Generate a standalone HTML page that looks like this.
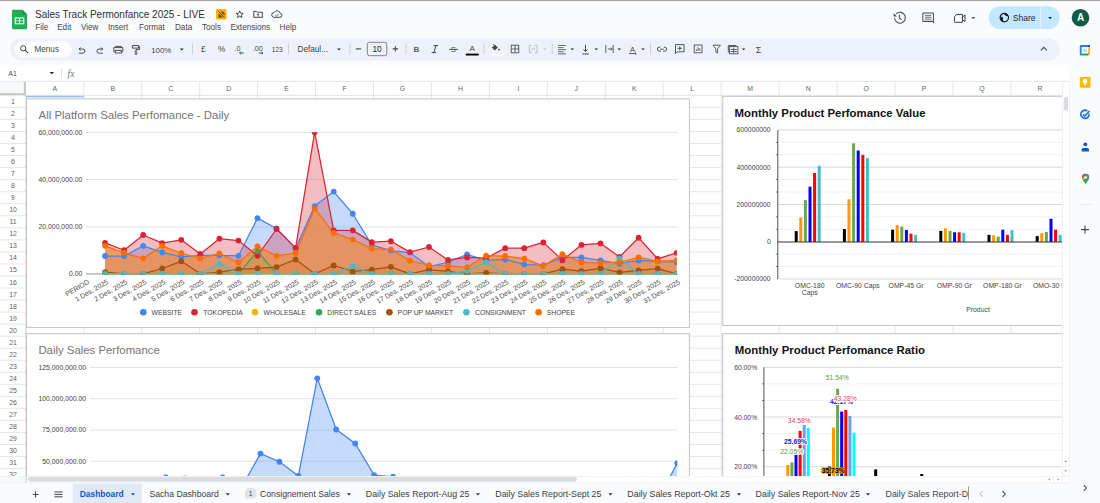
<!DOCTYPE html><html><head><meta charset="utf-8"><style>html,body{margin:0;padding:0;width:1100px;height:503px;overflow:hidden;background:#f9fbfd}svg{display:block;font-family:"Liberation Sans",sans-serif}</style></head><body>
<svg width="1100" height="503" viewBox="0 0 1100 503">
<defs><clipPath id="gridclip"><rect x="26" y="95.4" width="1036.3" height="380.6"/></clipPath><clipPath id="c1"><rect x="26" y="132.2" width="650.8" height="142.4"/></clipPath><clipPath id="c3"><rect x="26" y="340" width="651.3" height="140"/></clipPath></defs>
<rect x="0" y="0" width="1100" height="503" fill="#f9fbfd"/>
<rect x="0" y="0" width="1100" height="1.1" fill="#a6a6a6"/>
<path d="M13.2,9.8 h9.3 l4.6,4.6 v13.6 a1.2,1.2 0 0 1 -1.2,1.2 h-12.7 a1.2,1.2 0 0 1 -1.2,-1.2 v-17 a1.2,1.2 0 0 1 1.2,-1.2z" fill="#23ad52"/>
<path d="M22.5,9.8 l4.6,4.6 h-3.4 a1.2,1.2 0 0 1 -1.2,-1.2z" fill="#1b8f44"/>
<rect x="14.7" y="17.4" width="9.6" height="6.9" fill="#fff"/>
<rect x="15.8" y="18.5" width="3.2" height="2.0" fill="#23ad52"/><rect x="20.0" y="18.5" width="3.2" height="2.0" fill="#23ad52"/>
<rect x="15.8" y="21.2" width="3.2" height="2.0" fill="#23ad52"/><rect x="20.0" y="21.2" width="3.2" height="2.0" fill="#23ad52"/>
<text x="35.00" y="17.60" font-size="9.99" fill="#2f3134" font-weight="normal" text-anchor="start" >Sales Track Permonfance 2025 - LIVE</text>
<rect x="216" y="9" width="10.5" height="10.5" rx="1.5" fill="#f5b400"/>
<path d="M218.6,11.3 l6.0,6.2" stroke="#3d3000" stroke-width="0.9"/><path d="M218.6,13.2 v4.4 h4.4z M220.6,11.4 h2.2 l1.8,1.8 v2.2z" fill="#3d3000" opacity="0.85"/>
<path d="M239.7,10.9 l1.0,2.3 2.5,0.25 -1.9,1.65 0.57,2.45 -2.17,-1.3 -2.17,1.3 0.57,-2.45 -1.9,-1.65 2.5,-0.25z" fill="none" stroke="#3c4043" stroke-width="0.95" stroke-linejoin="round"/>
<path d="M253.8,11.4 h2.8 l0.9,0.9 h4.9 v5.0 h-8.6z" fill="none" stroke="#3c4043" stroke-width="0.95"/>
<path d="M258.1,13.9 v2.6 M256.9,15.0 l1.2,-1.2 1.2,1.2" fill="none" stroke="#3c4043" stroke-width="0.8"/>
<path d="M273.5,17.3 h6.3 a2.0,2.0 0 0 0 0.3,-4.0 a3.1,3.1 0 0 0 -5.8,-0.9 a2.5,2.5 0 0 0 -0.8,4.9z" fill="none" stroke="#3c4043" stroke-width="0.95"/>
<path d="M275.3,15.1 l1.2,1.1 2.2,-2.2" fill="none" stroke="#3c4043" stroke-width="0.8"/>
<text x="35.20" y="30.20" font-size="8.15" fill="#45484c" font-weight="normal" text-anchor="start" >File</text>
<text x="57.20" y="30.20" font-size="8.15" fill="#45484c" font-weight="normal" text-anchor="start" >Edit</text>
<text x="81.00" y="30.20" font-size="8.15" fill="#45484c" font-weight="normal" text-anchor="start" >View</text>
<text x="108.00" y="30.20" font-size="8.15" fill="#45484c" font-weight="normal" text-anchor="start" >Insert</text>
<text x="139.00" y="30.20" font-size="8.15" fill="#45484c" font-weight="normal" text-anchor="start" >Format</text>
<text x="175.00" y="30.20" font-size="8.15" fill="#45484c" font-weight="normal" text-anchor="start" >Data</text>
<text x="202.00" y="30.20" font-size="8.15" fill="#45484c" font-weight="normal" text-anchor="start" >Tools</text>
<text x="230.40" y="30.20" font-size="8.15" fill="#45484c" font-weight="normal" text-anchor="start" >Extensions</text>
<text x="279.60" y="30.20" font-size="8.15" fill="#45484c" font-weight="normal" text-anchor="start" >Help</text>
<g fill="none" stroke="#444746" stroke-width="1.05"><path d="M894.6,17.8 a5.4,5.4 0 1 0 1.6,-3.9"/><path d="M899.4,14.8 v3.4 l2.3,1.4"/></g>
<path d="M893.7,13.2 v3.3 h3.3z" fill="#444746"/>
<path d="M922.8,13.0 h10.6 v8.4 h-9.0 M922.8,13.0 v8.4 h9.6 l1.4,1.6 v-1.6" fill="none" stroke="#444746" stroke-width="1.0"/>
<path d="M924.9,15.3 h6.4 M924.9,17.2 h6.4 M924.9,19.1 h6.4" stroke="#444746" stroke-width="0.8"/>
<path d="M956.8,14.4 h5.6 v7.9 h-7.3 a0.6,0.6 0 0 1 -0.6,-0.6 v-5.2z" fill="none" stroke="#3c4043" stroke-width="1.0" stroke-linejoin="round"/>
<path d="M962.4,17.0 l2.6,-2.0 v6.6 l-2.6,-2.0z" fill="none" stroke="#3c4043" stroke-width="1.0" stroke-linejoin="round"/>
<path d="M971.5,17.0 h3.6 l-1.8,1.9z" fill="#444746"/>
<rect x="988.7" y="6.2" width="71" height="22.8" rx="11.4" fill="#c2e7ff"/>
<rect x="1040.2" y="6.2" width="0.9" height="22.8" fill="#f9fbfd" opacity="0.7"/>
<circle cx="1004.3" cy="17.6" r="4.2" fill="none" stroke="#0a1a2a" stroke-width="1.2"/>
<path d="M1000.6,16.6 l1.6,0.3 1.0,1.2 -0.4,1.2 0.6,1.2 -0.3,1.1 a4.2,4.2 0 0 1 -2.5,-5.0z M1003.6,13.6 l0.4,1.0 1.4,0.4 0.3,1.0 1.5,0.2 1.0,-0.4 a4.2,4.2 0 0 0 -4.6,-2.2z" fill="#0a1a2a"/>
<text x="1012.70" y="20.60" font-size="8.58" fill="#1b2b3b" font-weight="normal" text-anchor="start" >Share</text>
<path d="M1048.2,17.0 h3.8 l-1.9,2.0z" fill="#001d35"/>
<circle cx="1080.5" cy="17.7" r="8.8" fill="#0d5c47"/>
<text x="1080.50" y="21.30" font-size="10.00" fill="#ffffff" font-weight="bold" text-anchor="middle" >A</text>
<rect x="10" y="38.2" width="1050" height="22.4" rx="11.2" fill="#edf2fa"/>
<rect x="14.5" y="41.3" width="57.3" height="16" rx="8" fill="#ffffff"/>
<circle cx="23.2" cy="48.3" r="2.6" fill="none" stroke="#444746" stroke-width="1.0"/><path d="M25.1,50.2 l3.0,3.0" stroke="#444746" stroke-width="1.1"/>
<text x="34.50" y="52.00" font-size="8.16" fill="#444746" font-weight="normal" text-anchor="start" >Menus</text>
<path d="M79.2,49.0 h3.6 a2.1,2.1 0 0 1 0,4.2 h-3.8 M80.6,47.5 l-1.5,1.5 1.5,1.5" fill="none" stroke="#444746" stroke-width="0.95"/>
<path d="M102.6,49.0 h-3.6 a2.1,2.1 0 0 0 0,4.2 h3.8 M101.2,47.5 l1.5,1.5 -1.5,1.5" fill="none" stroke="#444746" stroke-width="0.95"/>
<path d="M115.3,47.6 v-1.2 h6.0 v1.2 M114.6,51.8 h-0.8 v-4.2 h9.0 v4.2 h-0.8" fill="none" stroke="#444746" stroke-width="0.95"/><rect x="115.3" y="50.4" width="6.0" height="2.6" fill="none" stroke="#444746" stroke-width="0.95"/>
<path d="M132.4,45.5 h6.2 v2.6 h-6.2z M138.6,46.8 h1.0 v2.6 h-3.6 v1.6" fill="none" stroke="#444746" stroke-width="0.95"/><rect x="135.2" y="51.0" width="1.6" height="3.5" rx="0.5" fill="none" stroke="#444746" stroke-width="0.85"/>
<text x="151.20" y="52.70" font-size="7.90" fill="#444746" font-weight="normal" text-anchor="start" >100%</text>
<path d="M180.0,48.6 h3.6 l-1.8,1.8z" fill="#1f1f1f"/>
<rect x="192.0" y="43.5" width="0.8" height="11" fill="#c7c7c7"/>
<rect x="288.0" y="43.5" width="0.8" height="11" fill="#c7c7c7"/>
<rect x="349.5" y="43.5" width="0.8" height="11" fill="#c7c7c7"/>
<rect x="405.5" y="43.5" width="0.8" height="11" fill="#c7c7c7"/>
<rect x="483.5" y="43.5" width="0.8" height="11" fill="#c7c7c7"/>
<rect x="551.8" y="43.5" width="0.8" height="11" fill="#c7c7c7"/>
<rect x="650.0" y="43.5" width="0.8" height="11" fill="#c7c7c7"/>
<text x="201.00" y="52.20" font-size="8.40" fill="#444746" font-weight="normal" text-anchor="start" >£</text>
<text x="218.00" y="52.20" font-size="8.20" fill="#444746" font-weight="normal" text-anchor="start" >%</text>
<text x="234.50" y="50.60" font-size="7.20" fill="#444746" font-weight="normal" text-anchor="start" >.0</text>
<path d="M243.8,53.0 h-4.2 M241.0,51.6 l-1.4,1.4 1.4,1.4" fill="none" stroke="#444746" stroke-width="0.9"/>
<text x="252.70" y="50.60" font-size="7.20" fill="#444746" font-weight="normal" text-anchor="start" >.00</text>
<path d="M258.5,53.0 h4.4 M261.5,51.6 l1.4,1.4 -1.4,1.4" fill="none" stroke="#444746" stroke-width="0.9"/>
<text x="271.80" y="51.90" font-size="6.53" fill="#444746" font-weight="normal" text-anchor="start" >123</text>
<text x="297.60" y="52.20" font-size="8.16" fill="#444746" font-weight="normal" text-anchor="start" >Defaul...</text>
<path d="M337.0,48.5 h3.8 l-1.9,1.9z" fill="#2d2f31"/>
<path d="M355.8,48.9 h5.4" stroke="#444746" stroke-width="1.1"/>
<rect x="367.3" y="42.3" width="19.5" height="13.4" rx="2.2" fill="none" stroke="#747775" stroke-width="0.9"/>
<text x="377.00" y="52.00" font-size="8.20" fill="#1f1f1f" font-weight="normal" text-anchor="middle" >10</text>
<path d="M392.7,48.9 h5.4 M395.4,46.2 v5.4" stroke="#444746" stroke-width="1.1"/>
<text x="413.60" y="52.00" font-size="8.00" fill="#5a5d60" font-weight="bold" text-anchor="start" >B</text>
<path d="M433.6,45.6 h4.4 M431.6,52.6 h4.4 M436.0,45.6 l-2.2,7.0" fill="none" stroke="#444746" stroke-width="1.0"/>
<path d="M449.0,49.4 h9.0" stroke="#444746" stroke-width="0.9"/>
<text x="453.40" y="52.40" font-size="7.80" fill="#444746" font-weight="normal" text-anchor="middle" >S</text>
<text x="472.20" y="51.40" font-size="8.00" fill="#444746" font-weight="normal" text-anchor="middle" >A</text>
<rect x="465.8" y="53.6" width="12.9" height="1.9" fill="#000"/>
<path d="M491.8,47.6 l3.0,-3.0 3.0,3.0 -3.0,3.0z" fill="#444746"/><path d="M492.6,46.8 l2.2,-2.2" stroke="#edf2fa" stroke-width="0.6"/><path d="M493.0,44.0 l1.8,1.8" stroke="#444746" stroke-width="0.8"/><circle cx="499.0" cy="49.6" r="0.95" fill="#444746"/>
<rect x="490.8" y="53.6" width="12.9" height="1.9" fill="#ffffff"/>
<rect x="511.2" y="45.2" width="7.6" height="7.6" fill="none" stroke="#444746" stroke-width="0.85"/><path d="M515,45.2 v7.6 M511.2,49 h7.6" stroke="#444746" stroke-width="0.8"/>
<path d="M529.3,45.3 h2.3 M534.7,45.3 h2.3 M529.3,52.7 h2.3 M534.7,52.7 h2.3 M529.3,45.3 v7.4 M537,45.3 v7.4 M531.3,49 h4" fill="none" stroke="#b9bcbf" stroke-width="1.0"/>
<path d="M543.2,48.6 h3.2 l-1.6,1.6z" fill="#b9bcbf"/>
<path d="M558,45.5 h8 M558,47.6 h5.5 M558,49.7 h8 M558,51.8 h5.5 M558,53.9 h8" stroke="#444746" stroke-width="0.8"/>
<path d="M570.5,48.5 h3.6 l-1.8,1.8z" fill="#2d2f31"/>
<path d="M582.3,54 h6.5 M585.5,44.8 v6.6 M583.5,49.5 l2,2 2,-2" fill="none" stroke="#444746" stroke-width="1.0"/>
<path d="M594.5,48.5 h3.6 l-1.8,1.8z" fill="#2d2f31"/>
<path d="M605.8,45 v8 M607.8,49 h4.5 M610.8,47.5 l1.5,1.5 -1.5,1.5 M613.2,45 v8" fill="none" stroke="#444746" stroke-width="0.85"/>
<path d="M617.5,48.5 h3.6 l-1.8,1.8z" fill="#2d2f31"/>
<text x="632.50" y="51.80" font-size="7.50" fill="#444746" font-weight="normal" text-anchor="middle" >A</text>
<path d="M629,53.6 h7 M635,52.6 l1.2,1 -1.2,1" fill="none" stroke="#444746" stroke-width="0.9"/>
<path d="M641.2,48.5 h3.6 l-1.8,1.8z" fill="#2d2f31"/>
<path d="M660.2,47.2 h-0.8 a2.0,2.0 0 0 0 0,4.0 h1.4 M663.8,47.2 h0.8 a2.0,2.0 0 0 1 0,4.0 h-1.4 M660.3,49.2 h3.4" fill="none" stroke="#444746" stroke-width="0.95"/>
<path d="M675.5,44.6 h8.6 v7.2 h-6.8 l-1.8,1.8z" fill="none" stroke="#444746" stroke-width="0.9"/><path d="M679.8,46.2 v4.2 M677.7,48.3 h4.2" stroke="#444746" stroke-width="0.9"/>
<rect x="694.2" y="45.0" width="7.8" height="7.8" fill="none" stroke="#444746" stroke-width="0.85"/><path d="M696.4,50.8 v-1.5 M698.1,50.8 v-3.5 M699.8,50.8 v-2.4" stroke="#444746" stroke-width="0.9"/>
<path d="M713,45.2 h7.5 l-2.9,3.6 v4.2 l-1.7,-0.9 v-3.3z" fill="none" stroke="#444746" stroke-width="0.85"/>
<rect x="729.5" y="46.6" width="8.4" height="7.2" fill="none" stroke="#444746" stroke-width="0.85"/><path d="M728.3,52.4 v-6.9 h8.0" fill="none" stroke="#444746" stroke-width="0.9"/><path d="M730.5,49.5 h6.4 M730.5,51.5 h6.4 M733.7,47.5 v6" stroke="#444746" stroke-width="0.8"/>
<path d="M741.8,48.5 h3.6 l-1.8,1.8z" fill="#2d2f31"/>
<text x="758.50" y="52.60" font-size="9.00" fill="#444746" font-weight="normal" text-anchor="middle" >Σ</text>
<path d="M1040.8,50.4 l3,-3 3,3" fill="none" stroke="#444746" stroke-width="1.1"/>
<rect x="0" y="65.3" width="1069" height="16" fill="#ffffff"/>
<rect x="0" y="80.9" width="1069" height="0.9" fill="#dadce0"/>
<text x="8.20" y="76.00" font-size="7.10" fill="#50545a" font-weight="normal" text-anchor="start" >A1</text>
<path d="M49.6,72.0 h4.4 l-2.2,2.3z" fill="#1f1f1f"/>
<rect x="61" y="69" width="0.8" height="9.4" fill="#dadce0"/>
<text x="67.60" y="77.00" font-size="9.60" fill="#6f7377" font-weight="normal" text-anchor="start" font-style="italic" font-family="Liberation Serif">fx</text>
<rect x="0" y="81.8" width="1069" height="394.2" fill="#ffffff"/>
<path d="M0,107.40H1062.3 M0,119.44H1062.3 M0,131.48H1062.3 M0,143.52H1062.3 M0,155.56H1062.3 M0,167.60H1062.3 M0,179.64H1062.3 M0,191.68H1062.3 M0,203.72H1062.3 M0,215.76H1062.3 M0,227.80H1062.3 M0,239.84H1062.3 M0,251.88H1062.3 M0,263.92H1062.3 M0,275.96H1062.3 M0,288.00H1062.3 M0,300.04H1062.3 M0,312.08H1062.3 M0,324.12H1062.3 M0,336.16H1062.3 M0,348.20H1062.3 M0,360.24H1062.3 M0,372.28H1062.3 M0,384.32H1062.3 M0,396.36H1062.3 M0,408.40H1062.3 M0,420.44H1062.3 M0,432.48H1062.3 M0,444.52H1062.3 M0,456.56H1062.3 M0,468.60H1062.3 M0,480.64H1062.3" stroke="#e2e3e3" stroke-width="0.9"/>
<path d="M83.75,81.8V476 M141.70,81.8V476 M199.65,81.8V476 M257.60,81.8V476 M315.55,81.8V476 M373.50,81.8V476 M431.45,81.8V476 M489.40,81.8V476 M547.35,81.8V476 M605.30,81.8V476 M663.25,81.8V476 M721.20,81.8V476 M779.15,81.8V476 M837.10,81.8V476 M895.05,81.8V476 M953.00,81.8V476 M1010.95,81.8V476 M1068.90,81.8V476" stroke="#e2e3e3" stroke-width="0.9"/>
<rect x="0" y="81.8" width="26" height="13.6" fill="#f8f9fa"/>
<rect x="0" y="93.2" width="26" height="2.2" fill="#c4c7c5"/>
<rect x="23.8" y="81.8" width="2.2" height="13.6" fill="#c4c7c5"/>
<rect x="25.6" y="95.4" width="0.9" height="380.6" fill="#c4c7c5"/>
<rect x="26" y="94.9" width="1036.3" height="0.6" fill="#d0d2d4"/>
<text x="54.78" y="91.00" font-size="6.90" fill="#606366" font-weight="normal" text-anchor="middle" >A</text>
<text x="112.73" y="91.00" font-size="6.90" fill="#606366" font-weight="normal" text-anchor="middle" >B</text>
<text x="170.68" y="91.00" font-size="6.90" fill="#606366" font-weight="normal" text-anchor="middle" >C</text>
<text x="228.63" y="91.00" font-size="6.90" fill="#606366" font-weight="normal" text-anchor="middle" >D</text>
<text x="286.58" y="91.00" font-size="6.90" fill="#606366" font-weight="normal" text-anchor="middle" >E</text>
<text x="344.53" y="91.00" font-size="6.90" fill="#606366" font-weight="normal" text-anchor="middle" >F</text>
<text x="402.48" y="91.00" font-size="6.90" fill="#606366" font-weight="normal" text-anchor="middle" >G</text>
<text x="460.43" y="91.00" font-size="6.90" fill="#606366" font-weight="normal" text-anchor="middle" >H</text>
<text x="518.38" y="91.00" font-size="6.90" fill="#606366" font-weight="normal" text-anchor="middle" >I</text>
<text x="576.32" y="91.00" font-size="6.90" fill="#606366" font-weight="normal" text-anchor="middle" >J</text>
<text x="634.27" y="91.00" font-size="6.90" fill="#606366" font-weight="normal" text-anchor="middle" >K</text>
<text x="692.23" y="91.00" font-size="6.90" fill="#606366" font-weight="normal" text-anchor="middle" >L</text>
<text x="750.17" y="91.00" font-size="6.90" fill="#606366" font-weight="normal" text-anchor="middle" >M</text>
<text x="808.12" y="91.00" font-size="6.90" fill="#606366" font-weight="normal" text-anchor="middle" >N</text>
<text x="866.08" y="91.00" font-size="6.90" fill="#606366" font-weight="normal" text-anchor="middle" >O</text>
<text x="924.02" y="91.00" font-size="6.90" fill="#606366" font-weight="normal" text-anchor="middle" >P</text>
<text x="981.98" y="91.00" font-size="6.90" fill="#606366" font-weight="normal" text-anchor="middle" >Q</text>
<text x="1039.92" y="91.00" font-size="6.90" fill="#606366" font-weight="normal" text-anchor="middle" >R</text>
<text x="13.00" y="103.92" font-size="6.90" fill="#606366" font-weight="normal" text-anchor="middle" >1</text>
<text x="13.00" y="115.96" font-size="6.90" fill="#606366" font-weight="normal" text-anchor="middle" >2</text>
<text x="13.00" y="128.00" font-size="6.90" fill="#606366" font-weight="normal" text-anchor="middle" >3</text>
<text x="13.00" y="140.04" font-size="6.90" fill="#606366" font-weight="normal" text-anchor="middle" >4</text>
<text x="13.00" y="152.08" font-size="6.90" fill="#606366" font-weight="normal" text-anchor="middle" >5</text>
<text x="13.00" y="164.12" font-size="6.90" fill="#606366" font-weight="normal" text-anchor="middle" >6</text>
<text x="13.00" y="176.16" font-size="6.90" fill="#606366" font-weight="normal" text-anchor="middle" >7</text>
<text x="13.00" y="188.20" font-size="6.90" fill="#606366" font-weight="normal" text-anchor="middle" >8</text>
<text x="13.00" y="200.24" font-size="6.90" fill="#606366" font-weight="normal" text-anchor="middle" >9</text>
<text x="13.00" y="212.28" font-size="6.90" fill="#606366" font-weight="normal" text-anchor="middle" >10</text>
<text x="13.00" y="224.32" font-size="6.90" fill="#606366" font-weight="normal" text-anchor="middle" >11</text>
<text x="13.00" y="236.36" font-size="6.90" fill="#606366" font-weight="normal" text-anchor="middle" >12</text>
<text x="13.00" y="248.40" font-size="6.90" fill="#606366" font-weight="normal" text-anchor="middle" >13</text>
<text x="13.00" y="260.44" font-size="6.90" fill="#606366" font-weight="normal" text-anchor="middle" >14</text>
<text x="13.00" y="272.48" font-size="6.90" fill="#606366" font-weight="normal" text-anchor="middle" >15</text>
<text x="13.00" y="284.52" font-size="6.90" fill="#606366" font-weight="normal" text-anchor="middle" >16</text>
<text x="13.00" y="296.56" font-size="6.90" fill="#606366" font-weight="normal" text-anchor="middle" >17</text>
<text x="13.00" y="308.60" font-size="6.90" fill="#606366" font-weight="normal" text-anchor="middle" >18</text>
<text x="13.00" y="320.64" font-size="6.90" fill="#606366" font-weight="normal" text-anchor="middle" >19</text>
<text x="13.00" y="332.68" font-size="6.90" fill="#606366" font-weight="normal" text-anchor="middle" >20</text>
<text x="13.00" y="344.72" font-size="6.90" fill="#606366" font-weight="normal" text-anchor="middle" >21</text>
<text x="13.00" y="356.76" font-size="6.90" fill="#606366" font-weight="normal" text-anchor="middle" >22</text>
<text x="13.00" y="368.80" font-size="6.90" fill="#606366" font-weight="normal" text-anchor="middle" >23</text>
<text x="13.00" y="380.84" font-size="6.90" fill="#606366" font-weight="normal" text-anchor="middle" >24</text>
<text x="13.00" y="392.88" font-size="6.90" fill="#606366" font-weight="normal" text-anchor="middle" >25</text>
<text x="13.00" y="404.92" font-size="6.90" fill="#606366" font-weight="normal" text-anchor="middle" >26</text>
<text x="13.00" y="416.96" font-size="6.90" fill="#606366" font-weight="normal" text-anchor="middle" >27</text>
<text x="13.00" y="429.00" font-size="6.90" fill="#606366" font-weight="normal" text-anchor="middle" >28</text>
<text x="13.00" y="441.04" font-size="6.90" fill="#606366" font-weight="normal" text-anchor="middle" >29</text>
<text x="13.00" y="453.08" font-size="6.90" fill="#606366" font-weight="normal" text-anchor="middle" >30</text>
<text x="13.00" y="465.12" font-size="6.90" fill="#606366" font-weight="normal" text-anchor="middle" >31</text>
<text x="13.00" y="477.16" font-size="6.90" fill="#606366" font-weight="normal" text-anchor="middle" >32</text>
<rect x="26" y="95.8" width="58" height="1.6" fill="#9bbcf5"/>
<g clip-path="url(#gridclip)">
<rect x="26.5" y="98.9" width="662.9" height="228.5" fill="#ffffff" stroke="#c4c4c4" stroke-width="1"/>
<text x="38.50" y="118.80" font-size="11.45" fill="#757575" font-weight="normal" text-anchor="start" >All Platform Sales Perfomance - Daily</text>
<rect x="86" y="131.85" width="591.6" height="0.9" fill="#e0e0e0"/>
<text x="82.40" y="134.75" font-size="6.88" fill="#444444" font-weight="normal" text-anchor="end" >60,000,000.00</text>
<rect x="86" y="179.15" width="591.6" height="0.9" fill="#e0e0e0"/>
<text x="82.40" y="182.05" font-size="6.88" fill="#444444" font-weight="normal" text-anchor="end" >40,000,000.00</text>
<rect x="86" y="226.55" width="591.6" height="0.9" fill="#e0e0e0"/>
<text x="82.40" y="229.45" font-size="6.88" fill="#444444" font-weight="normal" text-anchor="end" >20,000,000.00</text>
<text x="82.40" y="276.35" font-size="6.88" fill="#444444" font-weight="normal" text-anchor="end" >0.00</text>
<rect x="86" y="273.5" width="591.6" height="0.9" fill="#8a8a8a"/>
<g clip-path="url(#c1)">
<path d="M105.05,273.8L105.05,256.01L124.11,256.01L143.16,245.85L162.22,252.32L181.27,256.94L200.33,255.32L219.38,255.32L238.44,255.78L257.49,218.13L276.55,228.52L295.60,248.39L314.66,206.12L333.71,191.56L352.77,213.74L371.82,244.93L390.88,250.70L409.93,252.55L428.99,266.64L448.04,262.25L467.10,254.40L486.15,260.40L505.21,259.48L524.26,264.33L543.32,265.25L562.37,257.40L581.43,257.40L600.48,260.40L619.54,263.64L638.59,260.40L657.65,261.33L676.70,262.25L676.70,273.8Z" fill="#4285f4" fill-opacity="0.3"/>
<path d="M105.05,273.8L105.05,242.85L124.11,250.24L143.16,234.99L162.22,243.08L181.27,239.84L200.33,253.93L219.38,238.69L238.44,240.54L257.49,255.78L276.55,228.99L295.60,247.93L314.66,132.20L333.71,230.37L352.77,230.37L371.82,242.15L390.88,241.23L409.93,252.09L428.99,247.00L448.04,259.94L467.10,257.40L486.15,258.09L505.21,248.16L524.26,248.16L543.32,242.38L562.37,260.17L581.43,244.93L600.48,243.31L619.54,256.94L638.59,237.76L657.65,258.79L676.70,252.78L676.70,273.8Z" fill="#db2433" fill-opacity="0.3"/>
<path d="M105.05,273.8L105.05,273.80L124.11,273.80L143.16,273.80L162.22,273.80L181.27,273.80L200.33,273.80L219.38,273.80L238.44,273.80L257.49,273.80L276.55,273.80L295.60,273.80L314.66,273.80L333.71,273.80L352.77,273.80L371.82,273.80L390.88,273.80L409.93,273.80L428.99,273.80L448.04,273.80L467.10,273.80L486.15,273.80L505.21,273.80L524.26,273.80L543.32,273.80L562.37,273.80L581.43,273.80L600.48,273.80L619.54,273.80L638.59,273.80L657.65,273.80L676.70,273.80L676.70,273.8Z" fill="#f4b400" fill-opacity="0.3"/>
<path d="M105.05,273.8L105.05,273.80L124.11,273.80L143.16,273.80L162.22,273.80L181.27,273.80L200.33,273.80L219.38,273.80L238.44,273.80L257.49,251.16L276.55,273.80L295.60,273.80L314.66,273.80L333.71,273.80L352.77,273.80L371.82,273.80L390.88,273.80L409.93,273.80L428.99,273.80L448.04,273.80L467.10,273.80L486.15,273.80L505.21,273.80L524.26,273.80L543.32,273.80L562.37,273.80L581.43,273.80L600.48,273.80L619.54,273.80L638.59,273.80L657.65,273.80L676.70,273.80L676.70,273.8Z" fill="#34a853" fill-opacity="0.3"/>
<path d="M105.05,273.8L105.05,272.18L124.11,273.80L143.16,273.80L162.22,268.49L181.27,261.33L200.33,273.80L219.38,272.18L238.44,269.18L257.49,268.49L276.55,267.10L295.60,259.48L314.66,273.80L333.71,265.48L352.77,271.49L371.82,269.64L390.88,266.87L409.93,273.80L428.99,269.64L448.04,271.49L467.10,273.80L486.15,272.88L505.21,273.80L524.26,273.80L543.32,273.80L562.37,269.18L581.43,271.03L600.48,268.26L619.54,272.41L638.59,270.34L657.65,268.72L676.70,273.80L676.70,273.8Z" fill="#a3520f" fill-opacity="0.3"/>
<path d="M105.05,273.8L105.05,273.80L124.11,273.80L143.16,273.80L162.22,273.80L181.27,273.80L200.33,273.80L219.38,263.87L238.44,273.80L257.49,273.80L276.55,273.80L295.60,273.80L314.66,273.80L333.71,273.80L352.77,266.18L371.82,273.80L390.88,273.80L409.93,273.80L428.99,273.80L448.04,273.80L467.10,270.80L486.15,262.25L505.21,273.80L524.26,273.80L543.32,273.80L562.37,273.80L581.43,273.80L600.48,273.80L619.54,258.55L638.59,273.80L657.65,273.80L676.70,273.80L676.70,273.8Z" fill="#46bdc6" fill-opacity="0.3"/>
<path d="M105.05,273.8L105.05,245.85L124.11,253.01L143.16,258.32L162.22,245.85L181.27,253.24L200.33,258.32L219.38,253.47L238.44,262.25L257.49,246.31L276.55,255.78L295.60,253.01L314.66,208.43L333.71,232.91L352.77,239.61L371.82,248.62L390.88,249.55L409.93,260.63L428.99,265.25L448.04,265.95L467.10,267.33L486.15,255.55L505.21,256.01L524.26,258.55L543.32,265.95L562.37,254.17L581.43,262.25L600.48,263.17L619.54,262.25L638.59,257.40L657.65,261.33L676.70,260.40L676.70,273.8Z" fill="#f08c38" fill-opacity="0.68"/>
<path d="M105.05,256.01L124.11,256.01L143.16,245.85L162.22,252.32L181.27,256.94L200.33,255.32L219.38,255.32L238.44,255.78L257.49,218.13L276.55,228.52L295.60,248.39L314.66,206.12L333.71,191.56L352.77,213.74L371.82,244.93L390.88,250.70L409.93,252.55L428.99,266.64L448.04,262.25L467.10,254.40L486.15,260.40L505.21,259.48L524.26,264.33L543.32,265.25L562.37,257.40L581.43,257.40L600.48,260.40L619.54,263.64L638.59,260.40L657.65,261.33L676.70,262.25" fill="none" stroke="#4285f4" stroke-width="1.25" stroke-linejoin="round"/>
<path d="M105.05,242.85L124.11,250.24L143.16,234.99L162.22,243.08L181.27,239.84L200.33,253.93L219.38,238.69L238.44,240.54L257.49,255.78L276.55,228.99L295.60,247.93L314.66,132.20L333.71,230.37L352.77,230.37L371.82,242.15L390.88,241.23L409.93,252.09L428.99,247.00L448.04,259.94L467.10,257.40L486.15,258.09L505.21,248.16L524.26,248.16L543.32,242.38L562.37,260.17L581.43,244.93L600.48,243.31L619.54,256.94L638.59,237.76L657.65,258.79L676.70,252.78" fill="none" stroke="#db2433" stroke-width="1.25" stroke-linejoin="round"/>
<path d="M105.05,273.80L124.11,273.80L143.16,273.80L162.22,273.80L181.27,273.80L200.33,273.80L219.38,273.80L238.44,273.80L257.49,273.80L276.55,273.80L295.60,273.80L314.66,273.80L333.71,273.80L352.77,273.80L371.82,273.80L390.88,273.80L409.93,273.80L428.99,273.80L448.04,273.80L467.10,273.80L486.15,273.80L505.21,273.80L524.26,273.80L543.32,273.80L562.37,273.80L581.43,273.80L600.48,273.80L619.54,273.80L638.59,273.80L657.65,273.80L676.70,273.80" fill="none" stroke="#f4b400" stroke-width="1.25" stroke-linejoin="round"/>
<path d="M105.05,273.80L124.11,273.80L143.16,273.80L162.22,273.80L181.27,273.80L200.33,273.80L219.38,273.80L238.44,273.80L257.49,251.16L276.55,273.80L295.60,273.80L314.66,273.80L333.71,273.80L352.77,273.80L371.82,273.80L390.88,273.80L409.93,273.80L428.99,273.80L448.04,273.80L467.10,273.80L486.15,273.80L505.21,273.80L524.26,273.80L543.32,273.80L562.37,273.80L581.43,273.80L600.48,273.80L619.54,273.80L638.59,273.80L657.65,273.80L676.70,273.80" fill="none" stroke="#34a853" stroke-width="1.25" stroke-linejoin="round"/>
<path d="M105.05,272.18L124.11,273.80L143.16,273.80L162.22,268.49L181.27,261.33L200.33,273.80L219.38,272.18L238.44,269.18L257.49,268.49L276.55,267.10L295.60,259.48L314.66,273.80L333.71,265.48L352.77,271.49L371.82,269.64L390.88,266.87L409.93,273.80L428.99,269.64L448.04,271.49L467.10,273.80L486.15,272.88L505.21,273.80L524.26,273.80L543.32,273.80L562.37,269.18L581.43,271.03L600.48,268.26L619.54,272.41L638.59,270.34L657.65,268.72L676.70,273.80" fill="none" stroke="#a3520f" stroke-width="1.25" stroke-linejoin="round"/>
<rect x="105.05" y="273.2" width="571.65" height="1.2" fill="#46bdc6"/>
<path d="M105.05,273.80L124.11,273.80L143.16,273.80L162.22,273.80L181.27,273.80L200.33,273.80L219.38,263.87L238.44,273.80L257.49,273.80L276.55,273.80L295.60,273.80L314.66,273.80L333.71,273.80L352.77,266.18L371.82,273.80L390.88,273.80L409.93,273.80L428.99,273.80L448.04,273.80L467.10,270.80L486.15,262.25L505.21,273.80L524.26,273.80L543.32,273.80L562.37,273.80L581.43,273.80L600.48,273.80L619.54,258.55L638.59,273.80L657.65,273.80L676.70,273.80" fill="none" stroke="#46bdc6" stroke-width="1.25" stroke-linejoin="round"/>
<path d="M105.05,245.85L124.11,253.01L143.16,258.32L162.22,245.85L181.27,253.24L200.33,258.32L219.38,253.47L238.44,262.25L257.49,246.31L276.55,255.78L295.60,253.01L314.66,208.43L333.71,232.91L352.77,239.61L371.82,248.62L390.88,249.55L409.93,260.63L428.99,265.25L448.04,265.95L467.10,267.33L486.15,255.55L505.21,256.01L524.26,258.55L543.32,265.95L562.37,254.17L581.43,262.25L600.48,263.17L619.54,262.25L638.59,257.40L657.65,261.33L676.70,260.40" fill="none" stroke="#ff6d01" stroke-width="1.25" stroke-linejoin="round"/>
<circle cx="105.05" cy="256.01" r="2.9" fill="#4285f4"/><circle cx="124.11" cy="256.01" r="2.9" fill="#4285f4"/><circle cx="143.16" cy="245.85" r="2.9" fill="#4285f4"/><circle cx="162.22" cy="252.32" r="2.9" fill="#4285f4"/><circle cx="181.27" cy="256.94" r="2.9" fill="#4285f4"/><circle cx="200.33" cy="255.32" r="2.9" fill="#4285f4"/><circle cx="219.38" cy="255.32" r="2.9" fill="#4285f4"/><circle cx="238.44" cy="255.78" r="2.9" fill="#4285f4"/><circle cx="257.49" cy="218.13" r="2.9" fill="#4285f4"/><circle cx="276.55" cy="228.52" r="2.9" fill="#4285f4"/><circle cx="295.60" cy="248.39" r="2.9" fill="#4285f4"/><circle cx="314.66" cy="206.12" r="2.9" fill="#4285f4"/><circle cx="333.71" cy="191.56" r="2.9" fill="#4285f4"/><circle cx="352.77" cy="213.74" r="2.9" fill="#4285f4"/><circle cx="371.82" cy="244.93" r="2.9" fill="#4285f4"/><circle cx="390.88" cy="250.70" r="2.9" fill="#4285f4"/><circle cx="409.93" cy="252.55" r="2.9" fill="#4285f4"/><circle cx="428.99" cy="266.64" r="2.9" fill="#4285f4"/><circle cx="448.04" cy="262.25" r="2.9" fill="#4285f4"/><circle cx="467.10" cy="254.40" r="2.9" fill="#4285f4"/><circle cx="486.15" cy="260.40" r="2.9" fill="#4285f4"/><circle cx="505.21" cy="259.48" r="2.9" fill="#4285f4"/><circle cx="524.26" cy="264.33" r="2.9" fill="#4285f4"/><circle cx="543.32" cy="265.25" r="2.9" fill="#4285f4"/><circle cx="562.37" cy="257.40" r="2.9" fill="#4285f4"/><circle cx="581.43" cy="257.40" r="2.9" fill="#4285f4"/><circle cx="600.48" cy="260.40" r="2.9" fill="#4285f4"/><circle cx="619.54" cy="263.64" r="2.9" fill="#4285f4"/><circle cx="638.59" cy="260.40" r="2.9" fill="#4285f4"/><circle cx="657.65" cy="261.33" r="2.9" fill="#4285f4"/><circle cx="676.70" cy="262.25" r="2.9" fill="#4285f4"/>
<circle cx="105.05" cy="242.85" r="2.9" fill="#db2433"/><circle cx="124.11" cy="250.24" r="2.9" fill="#db2433"/><circle cx="143.16" cy="234.99" r="2.9" fill="#db2433"/><circle cx="162.22" cy="243.08" r="2.9" fill="#db2433"/><circle cx="181.27" cy="239.84" r="2.9" fill="#db2433"/><circle cx="200.33" cy="253.93" r="2.9" fill="#db2433"/><circle cx="219.38" cy="238.69" r="2.9" fill="#db2433"/><circle cx="238.44" cy="240.54" r="2.9" fill="#db2433"/><circle cx="257.49" cy="255.78" r="2.9" fill="#db2433"/><circle cx="276.55" cy="228.99" r="2.9" fill="#db2433"/><circle cx="295.60" cy="247.93" r="2.9" fill="#db2433"/><circle cx="314.66" cy="132.20" r="2.9" fill="#db2433"/><circle cx="333.71" cy="230.37" r="2.9" fill="#db2433"/><circle cx="352.77" cy="230.37" r="2.9" fill="#db2433"/><circle cx="371.82" cy="242.15" r="2.9" fill="#db2433"/><circle cx="390.88" cy="241.23" r="2.9" fill="#db2433"/><circle cx="409.93" cy="252.09" r="2.9" fill="#db2433"/><circle cx="428.99" cy="247.00" r="2.9" fill="#db2433"/><circle cx="448.04" cy="259.94" r="2.9" fill="#db2433"/><circle cx="467.10" cy="257.40" r="2.9" fill="#db2433"/><circle cx="486.15" cy="258.09" r="2.9" fill="#db2433"/><circle cx="505.21" cy="248.16" r="2.9" fill="#db2433"/><circle cx="524.26" cy="248.16" r="2.9" fill="#db2433"/><circle cx="543.32" cy="242.38" r="2.9" fill="#db2433"/><circle cx="562.37" cy="260.17" r="2.9" fill="#db2433"/><circle cx="581.43" cy="244.93" r="2.9" fill="#db2433"/><circle cx="600.48" cy="243.31" r="2.9" fill="#db2433"/><circle cx="619.54" cy="256.94" r="2.9" fill="#db2433"/><circle cx="638.59" cy="237.76" r="2.9" fill="#db2433"/><circle cx="657.65" cy="258.79" r="2.9" fill="#db2433"/><circle cx="676.70" cy="252.78" r="2.9" fill="#db2433"/>
<circle cx="105.05" cy="273.80" r="2.9" fill="#f4b400"/><circle cx="124.11" cy="273.80" r="2.9" fill="#f4b400"/><circle cx="143.16" cy="273.80" r="2.9" fill="#f4b400"/><circle cx="162.22" cy="273.80" r="2.9" fill="#f4b400"/><circle cx="181.27" cy="273.80" r="2.9" fill="#f4b400"/><circle cx="200.33" cy="273.80" r="2.9" fill="#f4b400"/><circle cx="219.38" cy="273.80" r="2.9" fill="#f4b400"/><circle cx="238.44" cy="273.80" r="2.9" fill="#f4b400"/><circle cx="257.49" cy="273.80" r="2.9" fill="#f4b400"/><circle cx="276.55" cy="273.80" r="2.9" fill="#f4b400"/><circle cx="295.60" cy="273.80" r="2.9" fill="#f4b400"/><circle cx="314.66" cy="273.80" r="2.9" fill="#f4b400"/><circle cx="333.71" cy="273.80" r="2.9" fill="#f4b400"/><circle cx="352.77" cy="273.80" r="2.9" fill="#f4b400"/><circle cx="371.82" cy="273.80" r="2.9" fill="#f4b400"/><circle cx="390.88" cy="273.80" r="2.9" fill="#f4b400"/><circle cx="409.93" cy="273.80" r="2.9" fill="#f4b400"/><circle cx="428.99" cy="273.80" r="2.9" fill="#f4b400"/><circle cx="448.04" cy="273.80" r="2.9" fill="#f4b400"/><circle cx="467.10" cy="273.80" r="2.9" fill="#f4b400"/><circle cx="486.15" cy="273.80" r="2.9" fill="#f4b400"/><circle cx="505.21" cy="273.80" r="2.9" fill="#f4b400"/><circle cx="524.26" cy="273.80" r="2.9" fill="#f4b400"/><circle cx="543.32" cy="273.80" r="2.9" fill="#f4b400"/><circle cx="562.37" cy="273.80" r="2.9" fill="#f4b400"/><circle cx="581.43" cy="273.80" r="2.9" fill="#f4b400"/><circle cx="600.48" cy="273.80" r="2.9" fill="#f4b400"/><circle cx="619.54" cy="273.80" r="2.9" fill="#f4b400"/><circle cx="638.59" cy="273.80" r="2.9" fill="#f4b400"/><circle cx="657.65" cy="273.80" r="2.9" fill="#f4b400"/><circle cx="676.70" cy="273.80" r="2.9" fill="#f4b400"/>
<circle cx="105.05" cy="273.80" r="2.9" fill="#34a853"/><circle cx="124.11" cy="273.80" r="2.9" fill="#34a853"/><circle cx="143.16" cy="273.80" r="2.9" fill="#34a853"/><circle cx="162.22" cy="273.80" r="2.9" fill="#34a853"/><circle cx="181.27" cy="273.80" r="2.9" fill="#34a853"/><circle cx="200.33" cy="273.80" r="2.9" fill="#34a853"/><circle cx="219.38" cy="273.80" r="2.9" fill="#34a853"/><circle cx="238.44" cy="273.80" r="2.9" fill="#34a853"/><circle cx="257.49" cy="251.16" r="2.9" fill="#34a853"/><circle cx="276.55" cy="273.80" r="2.9" fill="#34a853"/><circle cx="295.60" cy="273.80" r="2.9" fill="#34a853"/><circle cx="314.66" cy="273.80" r="2.9" fill="#34a853"/><circle cx="333.71" cy="273.80" r="2.9" fill="#34a853"/><circle cx="352.77" cy="273.80" r="2.9" fill="#34a853"/><circle cx="371.82" cy="273.80" r="2.9" fill="#34a853"/><circle cx="390.88" cy="273.80" r="2.9" fill="#34a853"/><circle cx="409.93" cy="273.80" r="2.9" fill="#34a853"/><circle cx="428.99" cy="273.80" r="2.9" fill="#34a853"/><circle cx="448.04" cy="273.80" r="2.9" fill="#34a853"/><circle cx="467.10" cy="273.80" r="2.9" fill="#34a853"/><circle cx="486.15" cy="273.80" r="2.9" fill="#34a853"/><circle cx="505.21" cy="273.80" r="2.9" fill="#34a853"/><circle cx="524.26" cy="273.80" r="2.9" fill="#34a853"/><circle cx="543.32" cy="273.80" r="2.9" fill="#34a853"/><circle cx="562.37" cy="273.80" r="2.9" fill="#34a853"/><circle cx="581.43" cy="273.80" r="2.9" fill="#34a853"/><circle cx="600.48" cy="273.80" r="2.9" fill="#34a853"/><circle cx="619.54" cy="273.80" r="2.9" fill="#34a853"/><circle cx="638.59" cy="273.80" r="2.9" fill="#34a853"/><circle cx="657.65" cy="273.80" r="2.9" fill="#34a853"/><circle cx="676.70" cy="273.80" r="2.9" fill="#34a853"/>
<circle cx="105.05" cy="272.18" r="2.9" fill="#a3520f"/><circle cx="124.11" cy="273.80" r="2.9" fill="#a3520f"/><circle cx="143.16" cy="273.80" r="2.9" fill="#a3520f"/><circle cx="162.22" cy="268.49" r="2.9" fill="#a3520f"/><circle cx="181.27" cy="261.33" r="2.9" fill="#a3520f"/><circle cx="200.33" cy="273.80" r="2.9" fill="#a3520f"/><circle cx="219.38" cy="272.18" r="2.9" fill="#a3520f"/><circle cx="238.44" cy="269.18" r="2.9" fill="#a3520f"/><circle cx="257.49" cy="268.49" r="2.9" fill="#a3520f"/><circle cx="276.55" cy="267.10" r="2.9" fill="#a3520f"/><circle cx="295.60" cy="259.48" r="2.9" fill="#a3520f"/><circle cx="314.66" cy="273.80" r="2.9" fill="#a3520f"/><circle cx="333.71" cy="265.48" r="2.9" fill="#a3520f"/><circle cx="352.77" cy="271.49" r="2.9" fill="#a3520f"/><circle cx="371.82" cy="269.64" r="2.9" fill="#a3520f"/><circle cx="390.88" cy="266.87" r="2.9" fill="#a3520f"/><circle cx="409.93" cy="273.80" r="2.9" fill="#a3520f"/><circle cx="428.99" cy="269.64" r="2.9" fill="#a3520f"/><circle cx="448.04" cy="271.49" r="2.9" fill="#a3520f"/><circle cx="467.10" cy="273.80" r="2.9" fill="#a3520f"/><circle cx="486.15" cy="272.88" r="2.9" fill="#a3520f"/><circle cx="505.21" cy="273.80" r="2.9" fill="#a3520f"/><circle cx="524.26" cy="273.80" r="2.9" fill="#a3520f"/><circle cx="543.32" cy="273.80" r="2.9" fill="#a3520f"/><circle cx="562.37" cy="269.18" r="2.9" fill="#a3520f"/><circle cx="581.43" cy="271.03" r="2.9" fill="#a3520f"/><circle cx="600.48" cy="268.26" r="2.9" fill="#a3520f"/><circle cx="619.54" cy="272.41" r="2.9" fill="#a3520f"/><circle cx="638.59" cy="270.34" r="2.9" fill="#a3520f"/><circle cx="657.65" cy="268.72" r="2.9" fill="#a3520f"/><circle cx="676.70" cy="273.80" r="2.9" fill="#a3520f"/>
<circle cx="105.05" cy="273.80" r="2.9" fill="#46bdc6"/><circle cx="124.11" cy="273.80" r="2.9" fill="#46bdc6"/><circle cx="143.16" cy="273.80" r="2.9" fill="#46bdc6"/><circle cx="162.22" cy="273.80" r="2.9" fill="#46bdc6"/><circle cx="181.27" cy="273.80" r="2.9" fill="#46bdc6"/><circle cx="200.33" cy="273.80" r="2.9" fill="#46bdc6"/><circle cx="219.38" cy="263.87" r="2.9" fill="#46bdc6"/><circle cx="238.44" cy="273.80" r="2.9" fill="#46bdc6"/><circle cx="257.49" cy="273.80" r="2.9" fill="#46bdc6"/><circle cx="276.55" cy="273.80" r="2.9" fill="#46bdc6"/><circle cx="295.60" cy="273.80" r="2.9" fill="#46bdc6"/><circle cx="314.66" cy="273.80" r="2.9" fill="#46bdc6"/><circle cx="333.71" cy="273.80" r="2.9" fill="#46bdc6"/><circle cx="352.77" cy="266.18" r="2.9" fill="#46bdc6"/><circle cx="371.82" cy="273.80" r="2.9" fill="#46bdc6"/><circle cx="390.88" cy="273.80" r="2.9" fill="#46bdc6"/><circle cx="409.93" cy="273.80" r="2.9" fill="#46bdc6"/><circle cx="428.99" cy="273.80" r="2.9" fill="#46bdc6"/><circle cx="448.04" cy="273.80" r="2.9" fill="#46bdc6"/><circle cx="467.10" cy="270.80" r="2.9" fill="#46bdc6"/><circle cx="486.15" cy="262.25" r="2.9" fill="#46bdc6"/><circle cx="505.21" cy="273.80" r="2.9" fill="#46bdc6"/><circle cx="524.26" cy="273.80" r="2.9" fill="#46bdc6"/><circle cx="543.32" cy="273.80" r="2.9" fill="#46bdc6"/><circle cx="562.37" cy="273.80" r="2.9" fill="#46bdc6"/><circle cx="581.43" cy="273.80" r="2.9" fill="#46bdc6"/><circle cx="600.48" cy="273.80" r="2.9" fill="#46bdc6"/><circle cx="619.54" cy="258.55" r="2.9" fill="#46bdc6"/><circle cx="638.59" cy="273.80" r="2.9" fill="#46bdc6"/><circle cx="657.65" cy="273.80" r="2.9" fill="#46bdc6"/><circle cx="676.70" cy="273.80" r="2.9" fill="#46bdc6"/>
<circle cx="105.05" cy="245.85" r="2.9" fill="#ff6d01"/><circle cx="124.11" cy="253.01" r="2.9" fill="#ff6d01"/><circle cx="143.16" cy="258.32" r="2.9" fill="#ff6d01"/><circle cx="162.22" cy="245.85" r="2.9" fill="#ff6d01"/><circle cx="181.27" cy="253.24" r="2.9" fill="#ff6d01"/><circle cx="200.33" cy="258.32" r="2.9" fill="#ff6d01"/><circle cx="219.38" cy="253.47" r="2.9" fill="#ff6d01"/><circle cx="238.44" cy="262.25" r="2.9" fill="#ff6d01"/><circle cx="257.49" cy="246.31" r="2.9" fill="#ff6d01"/><circle cx="276.55" cy="255.78" r="2.9" fill="#ff6d01"/><circle cx="295.60" cy="253.01" r="2.9" fill="#ff6d01"/><circle cx="314.66" cy="208.43" r="2.9" fill="#ff6d01"/><circle cx="333.71" cy="232.91" r="2.9" fill="#ff6d01"/><circle cx="352.77" cy="239.61" r="2.9" fill="#ff6d01"/><circle cx="371.82" cy="248.62" r="2.9" fill="#ff6d01"/><circle cx="390.88" cy="249.55" r="2.9" fill="#ff6d01"/><circle cx="409.93" cy="260.63" r="2.9" fill="#ff6d01"/><circle cx="428.99" cy="265.25" r="2.9" fill="#ff6d01"/><circle cx="448.04" cy="265.95" r="2.9" fill="#ff6d01"/><circle cx="467.10" cy="267.33" r="2.9" fill="#ff6d01"/><circle cx="486.15" cy="255.55" r="2.9" fill="#ff6d01"/><circle cx="505.21" cy="256.01" r="2.9" fill="#ff6d01"/><circle cx="524.26" cy="258.55" r="2.9" fill="#ff6d01"/><circle cx="543.32" cy="265.95" r="2.9" fill="#ff6d01"/><circle cx="562.37" cy="254.17" r="2.9" fill="#ff6d01"/><circle cx="581.43" cy="262.25" r="2.9" fill="#ff6d01"/><circle cx="600.48" cy="263.17" r="2.9" fill="#ff6d01"/><circle cx="619.54" cy="262.25" r="2.9" fill="#ff6d01"/><circle cx="638.59" cy="257.40" r="2.9" fill="#ff6d01"/><circle cx="657.65" cy="261.33" r="2.9" fill="#ff6d01"/><circle cx="676.70" cy="260.40" r="2.9" fill="#ff6d01"/>
</g>
<text x="89.80" y="283.30" font-size="6.88" fill="#444444" text-anchor="end" transform="rotate(-30 89.80 283.30)">PERIOD</text>
<text x="108.85" y="283.30" font-size="6.88" fill="#444444" text-anchor="end" transform="rotate(-30 108.85 283.30)">1 Des, 2025</text>
<text x="127.91" y="283.30" font-size="6.88" fill="#444444" text-anchor="end" transform="rotate(-30 127.91 283.30)">2 Des, 2025</text>
<text x="146.96" y="283.30" font-size="6.88" fill="#444444" text-anchor="end" transform="rotate(-30 146.96 283.30)">3 Des, 2025</text>
<text x="166.02" y="283.30" font-size="6.88" fill="#444444" text-anchor="end" transform="rotate(-30 166.02 283.30)">4 Des, 2025</text>
<text x="185.07" y="283.30" font-size="6.88" fill="#444444" text-anchor="end" transform="rotate(-30 185.07 283.30)">5 Des, 2025</text>
<text x="204.13" y="283.30" font-size="6.88" fill="#444444" text-anchor="end" transform="rotate(-30 204.13 283.30)">6 Des, 2025</text>
<text x="223.18" y="283.30" font-size="6.88" fill="#444444" text-anchor="end" transform="rotate(-30 223.18 283.30)">7 Des, 2025</text>
<text x="242.24" y="283.30" font-size="6.88" fill="#444444" text-anchor="end" transform="rotate(-30 242.24 283.30)">8 Des, 2025</text>
<text x="261.29" y="283.30" font-size="6.88" fill="#444444" text-anchor="end" transform="rotate(-30 261.29 283.30)">9 Des, 2025</text>
<text x="280.35" y="283.30" font-size="6.88" fill="#444444" text-anchor="end" transform="rotate(-30 280.35 283.30)">10 Des, 2025</text>
<text x="299.40" y="283.30" font-size="6.88" fill="#444444" text-anchor="end" transform="rotate(-30 299.40 283.30)">11 Des, 2025</text>
<text x="318.46" y="283.30" font-size="6.88" fill="#444444" text-anchor="end" transform="rotate(-30 318.46 283.30)">12 Des, 2025</text>
<text x="337.51" y="283.30" font-size="6.88" fill="#444444" text-anchor="end" transform="rotate(-30 337.51 283.30)">13 Des, 2025</text>
<text x="356.57" y="283.30" font-size="6.88" fill="#444444" text-anchor="end" transform="rotate(-30 356.57 283.30)">14 Des, 2025</text>
<text x="375.62" y="283.30" font-size="6.88" fill="#444444" text-anchor="end" transform="rotate(-30 375.62 283.30)">15 Des, 2025</text>
<text x="394.68" y="283.30" font-size="6.88" fill="#444444" text-anchor="end" transform="rotate(-30 394.68 283.30)">16 Des, 2025</text>
<text x="413.73" y="283.30" font-size="6.88" fill="#444444" text-anchor="end" transform="rotate(-30 413.73 283.30)">17 Des, 2025</text>
<text x="432.79" y="283.30" font-size="6.88" fill="#444444" text-anchor="end" transform="rotate(-30 432.79 283.30)">18 Des, 2025</text>
<text x="451.84" y="283.30" font-size="6.88" fill="#444444" text-anchor="end" transform="rotate(-30 451.84 283.30)">19 Des, 2025</text>
<text x="470.90" y="283.30" font-size="6.88" fill="#444444" text-anchor="end" transform="rotate(-30 470.90 283.30)">20 Des, 2025</text>
<text x="489.95" y="283.30" font-size="6.88" fill="#444444" text-anchor="end" transform="rotate(-30 489.95 283.30)">21 Des, 2025</text>
<text x="509.01" y="283.30" font-size="6.88" fill="#444444" text-anchor="end" transform="rotate(-30 509.01 283.30)">22 Des, 2025</text>
<text x="528.06" y="283.30" font-size="6.88" fill="#444444" text-anchor="end" transform="rotate(-30 528.06 283.30)">23 Des, 2025</text>
<text x="547.12" y="283.30" font-size="6.88" fill="#444444" text-anchor="end" transform="rotate(-30 547.12 283.30)">24 Des, 2025</text>
<text x="566.17" y="283.30" font-size="6.88" fill="#444444" text-anchor="end" transform="rotate(-30 566.17 283.30)">25 Des, 2025</text>
<text x="585.23" y="283.30" font-size="6.88" fill="#444444" text-anchor="end" transform="rotate(-30 585.23 283.30)">26 Des, 2025</text>
<text x="604.28" y="283.30" font-size="6.88" fill="#444444" text-anchor="end" transform="rotate(-30 604.28 283.30)">27 Des, 2025</text>
<text x="623.34" y="283.30" font-size="6.88" fill="#444444" text-anchor="end" transform="rotate(-30 623.34 283.30)">28 Des, 2025</text>
<text x="642.39" y="283.30" font-size="6.88" fill="#444444" text-anchor="end" transform="rotate(-30 642.39 283.30)">29 Des, 2025</text>
<text x="661.45" y="283.30" font-size="6.88" fill="#444444" text-anchor="end" transform="rotate(-30 661.45 283.30)">30 Des, 2025</text>
<text x="680.50" y="283.30" font-size="6.88" fill="#444444" text-anchor="end" transform="rotate(-30 680.50 283.30)">31 Des, 2025</text>
<circle cx="143.3" cy="312.3" r="3.3" fill="#4285f4"/>
<text x="151.50" y="314.80" font-size="6.80" fill="#444444" font-weight="normal" text-anchor="start" >WEBSITE</text>
<circle cx="194.5" cy="312.3" r="3.3" fill="#db2433"/>
<text x="203.30" y="314.80" font-size="6.80" fill="#444444" font-weight="normal" text-anchor="start" >TOKOPEDIA</text>
<circle cx="255" cy="312.3" r="3.3" fill="#f4b400"/>
<text x="263.50" y="314.80" font-size="6.80" fill="#444444" font-weight="normal" text-anchor="start" >WHOLESALE</text>
<circle cx="319" cy="312.3" r="3.3" fill="#34a853"/>
<text x="327.30" y="314.80" font-size="6.80" fill="#444444" font-weight="normal" text-anchor="start" >DIRECT SALES</text>
<circle cx="389.4" cy="312.3" r="3.3" fill="#a3520f"/>
<text x="397.60" y="314.80" font-size="6.80" fill="#444444" font-weight="normal" text-anchor="start" >POP UP MARKET</text>
<circle cx="466.4" cy="312.3" r="3.3" fill="#46bdc6"/>
<text x="475.00" y="314.80" font-size="6.80" fill="#444444" font-weight="normal" text-anchor="start" >CONSIGNMENT</text>
<circle cx="538.6" cy="312.3" r="3.3" fill="#ff6d01"/>
<text x="546.80" y="314.80" font-size="6.80" fill="#444444" font-weight="normal" text-anchor="start" >SHOPEE</text>
<rect x="722.8" y="96.3" width="345" height="229.1" fill="#ffffff" stroke="#c4c4c4" stroke-width="1"/>
<text x="734.60" y="117.00" font-size="11.39" fill="#111111" font-weight="bold" text-anchor="start" >Monthly Product Perfomance Value</text>
<rect x="777.8" y="278.50" width="290" height="0.9" fill="#d4d4d4"/>
<rect x="777.8" y="266.13" width="290" height="0.8" fill="#eeeeee"/>
<rect x="775.8" y="266.13" width="2" height="0.8" fill="#555555"/>
<rect x="777.8" y="253.72" width="290" height="0.8" fill="#eeeeee"/>
<rect x="775.8" y="253.72" width="2" height="0.8" fill="#555555"/>
<rect x="777.8" y="228.88" width="290" height="0.8" fill="#eeeeee"/>
<rect x="775.8" y="228.88" width="2" height="0.8" fill="#555555"/>
<rect x="777.8" y="216.47" width="290" height="0.8" fill="#eeeeee"/>
<rect x="775.8" y="216.47" width="2" height="0.8" fill="#555555"/>
<rect x="777.8" y="204.00" width="290" height="0.9" fill="#d4d4d4"/>
<rect x="777.8" y="191.63" width="290" height="0.8" fill="#eeeeee"/>
<rect x="775.8" y="191.63" width="2" height="0.8" fill="#555555"/>
<rect x="777.8" y="179.22" width="290" height="0.8" fill="#eeeeee"/>
<rect x="775.8" y="179.22" width="2" height="0.8" fill="#555555"/>
<rect x="777.8" y="166.75" width="290" height="0.9" fill="#d4d4d4"/>
<rect x="777.8" y="154.38" width="290" height="0.8" fill="#eeeeee"/>
<rect x="775.8" y="154.38" width="2" height="0.8" fill="#555555"/>
<rect x="777.8" y="141.97" width="290" height="0.8" fill="#eeeeee"/>
<rect x="775.8" y="141.97" width="2" height="0.8" fill="#555555"/>
<rect x="777.8" y="129.50" width="290" height="0.9" fill="#d4d4d4"/>
<rect x="777.3" y="130" width="1" height="149.2" fill="#555555"/>
<text x="770.70" y="132.40" font-size="6.85" fill="#444444" font-weight="normal" text-anchor="end" >600000000</text>
<text x="770.70" y="169.65" font-size="6.85" fill="#444444" font-weight="normal" text-anchor="end" >400000000</text>
<text x="770.70" y="206.90" font-size="6.85" fill="#444444" font-weight="normal" text-anchor="end" >200000000</text>
<text x="770.70" y="244.15" font-size="6.85" fill="#444444" font-weight="normal" text-anchor="end" >0</text>
<text x="770.70" y="281.40" font-size="6.85" fill="#444444" font-weight="normal" text-anchor="end" >-200000000</text>
<rect x="794.70" y="231.10" width="3.0" height="10.90" fill="#000000"/>
<rect x="799.30" y="217.40" width="3.0" height="24.60" fill="#ff9900"/>
<rect x="803.90" y="200.10" width="3.0" height="41.90" fill="#6aa84f"/>
<rect x="808.50" y="186.70" width="3.0" height="55.30" fill="#0000ff"/>
<rect x="813.10" y="173.00" width="3.0" height="69.00" fill="#ff0000"/>
<rect x="817.70" y="165.70" width="3.0" height="76.30" fill="#46bdc6"/>
<rect x="842.90" y="229.00" width="3.0" height="13.00" fill="#000000"/>
<rect x="847.50" y="199.30" width="3.0" height="42.70" fill="#ff9900"/>
<rect x="852.10" y="143.30" width="3.0" height="98.70" fill="#6aa84f"/>
<rect x="856.70" y="150.50" width="3.0" height="91.50" fill="#0000ff"/>
<rect x="861.30" y="154.90" width="3.0" height="87.10" fill="#ff0000"/>
<rect x="865.90" y="158.00" width="3.0" height="84.00" fill="#46bdc6"/>
<rect x="891.10" y="229.70" width="3.0" height="12.30" fill="#000000"/>
<rect x="895.70" y="225.00" width="3.0" height="17.00" fill="#ff9900"/>
<rect x="900.30" y="226.60" width="3.0" height="15.40" fill="#6aa84f"/>
<rect x="904.90" y="230.00" width="3.0" height="12.00" fill="#0000ff"/>
<rect x="909.50" y="233.70" width="3.0" height="8.30" fill="#ff0000"/>
<rect x="914.10" y="234.90" width="3.0" height="7.10" fill="#46bdc6"/>
<rect x="939.30" y="230.90" width="3.0" height="11.10" fill="#000000"/>
<rect x="943.90" y="228.30" width="3.0" height="13.70" fill="#ff9900"/>
<rect x="948.50" y="230.90" width="3.0" height="11.10" fill="#6aa84f"/>
<rect x="953.10" y="232.30" width="3.0" height="9.70" fill="#0000ff"/>
<rect x="957.70" y="232.30" width="3.0" height="9.70" fill="#ff0000"/>
<rect x="962.30" y="232.80" width="3.0" height="9.20" fill="#46bdc6"/>
<rect x="987.50" y="234.90" width="3.0" height="7.10" fill="#000000"/>
<rect x="992.10" y="235.30" width="3.0" height="6.70" fill="#ff9900"/>
<rect x="996.70" y="236.60" width="3.0" height="5.40" fill="#6aa84f"/>
<rect x="1001.30" y="229.70" width="3.0" height="12.30" fill="#0000ff"/>
<rect x="1005.90" y="234.90" width="3.0" height="7.10" fill="#ff0000"/>
<rect x="1010.50" y="230.20" width="3.0" height="11.80" fill="#46bdc6"/>
<rect x="1035.70" y="236.10" width="3.0" height="5.90" fill="#000000"/>
<rect x="1040.30" y="233.20" width="3.0" height="8.80" fill="#ff9900"/>
<rect x="1044.90" y="232.00" width="3.0" height="10.00" fill="#6aa84f"/>
<rect x="1049.50" y="218.80" width="3.0" height="23.20" fill="#0000ff"/>
<rect x="1054.10" y="229.70" width="3.0" height="12.30" fill="#ff0000"/>
<rect x="1058.70" y="234.90" width="3.0" height="7.10" fill="#46bdc6"/>
<rect x="777.8" y="241.5" width="290" height="1.0" fill="#333333"/>
<text x="809.70" y="288.40" font-size="6.85" fill="#444444" font-weight="normal" text-anchor="middle" >OMC-180</text>
<text x="809.70" y="295.00" font-size="6.85" fill="#444444" font-weight="normal" text-anchor="middle" >Caps</text>
<text x="857.90" y="288.40" font-size="6.85" fill="#444444" font-weight="normal" text-anchor="middle" >OMC-90 Caps</text>
<text x="906.10" y="288.40" font-size="6.85" fill="#444444" font-weight="normal" text-anchor="middle" >OMP-45 Gr</text>
<text x="954.30" y="288.40" font-size="6.85" fill="#444444" font-weight="normal" text-anchor="middle" >OMP-90 Gr</text>
<text x="1002.50" y="288.40" font-size="6.85" fill="#444444" font-weight="normal" text-anchor="middle" >OMP-180 Gr</text>
<text x="1050.70" y="288.40" font-size="6.85" fill="#444444" font-weight="normal" text-anchor="middle" >OMO-30 Ml</text>
<text x="978.00" y="312.30" font-size="6.85" fill="#444444" font-weight="normal" text-anchor="middle" >Product</text>
<rect x="26.5" y="333.7" width="662.9" height="200" fill="#ffffff" stroke="#c4c4c4" stroke-width="1"/>
<text x="38.40" y="353.90" font-size="11.39" fill="#757575" font-weight="normal" text-anchor="start" >Daily Sales Perfomance</text>
<rect x="90" y="367.05" width="587.2" height="0.9" fill="#e0e0e0"/>
<text x="86.20" y="369.95" font-size="6.88" fill="#444444" font-weight="normal" text-anchor="end" >125,000,000.00</text>
<rect x="90" y="398.25" width="587.2" height="0.9" fill="#e0e0e0"/>
<text x="86.20" y="401.15" font-size="6.88" fill="#444444" font-weight="normal" text-anchor="end" >100,000,000.00</text>
<rect x="90" y="429.55" width="587.2" height="0.9" fill="#e0e0e0"/>
<text x="86.20" y="432.45" font-size="6.88" fill="#444444" font-weight="normal" text-anchor="end" >75,000,000.00</text>
<rect x="90" y="460.75" width="587.2" height="0.9" fill="#e0e0e0"/>
<text x="86.20" y="463.65" font-size="6.88" fill="#444444" font-weight="normal" text-anchor="end" >50,000,000.00</text>
<g clip-path="url(#c3)">
<path d="M108.94,523.7L108.94,481.35L127.88,490.10L146.83,479.23L165.77,477.48L184.71,478.35L203.65,494.59L222.59,477.48L241.54,487.22L260.48,453.62L279.42,461.74L298.36,475.86L317.30,378.29L336.25,429.51L355.19,443.50L374.13,475.11L393.07,476.73L412.01,493.34L430.95,498.47L449.90,504.46L468.84,499.22L487.78,491.35L506.72,492.47L525.66,496.47L544.61,497.84L563.55,494.34L582.49,491.47L601.43,491.22L620.37,493.84L639.32,486.22L658.26,499.34L677.20,463.11L677.20,523.7Z" fill="#4285f4" fill-opacity="0.3"/>
<path d="M108.94,481.35L127.88,490.10L146.83,479.23L165.77,477.48L184.71,478.35L203.65,494.59L222.59,477.48L241.54,487.22L260.48,453.62L279.42,461.74L298.36,475.86L317.30,378.29L336.25,429.51L355.19,443.50L374.13,475.11L393.07,476.73L412.01,493.34L430.95,498.47L449.90,504.46L468.84,499.22L487.78,491.35L506.72,492.47L525.66,496.47L544.61,497.84L563.55,494.34L582.49,491.47L601.43,491.22L620.37,493.84L639.32,486.22L658.26,499.34L677.20,463.11" fill="none" stroke="#4285f4" stroke-width="1.25"/>
<circle cx="108.94" cy="481.35" r="2.9" fill="#4285f4"/><circle cx="127.88" cy="490.10" r="2.9" fill="#4285f4"/><circle cx="146.83" cy="479.23" r="2.9" fill="#4285f4"/><circle cx="165.77" cy="477.48" r="2.9" fill="#4285f4"/><circle cx="184.71" cy="478.35" r="2.9" fill="#4285f4"/><circle cx="203.65" cy="494.59" r="2.9" fill="#4285f4"/><circle cx="222.59" cy="477.48" r="2.9" fill="#4285f4"/><circle cx="241.54" cy="487.22" r="2.9" fill="#4285f4"/><circle cx="260.48" cy="453.62" r="2.9" fill="#4285f4"/><circle cx="279.42" cy="461.74" r="2.9" fill="#4285f4"/><circle cx="298.36" cy="475.86" r="2.9" fill="#4285f4"/><circle cx="317.30" cy="378.29" r="2.9" fill="#4285f4"/><circle cx="336.25" cy="429.51" r="2.9" fill="#4285f4"/><circle cx="355.19" cy="443.50" r="2.9" fill="#4285f4"/><circle cx="374.13" cy="475.11" r="2.9" fill="#4285f4"/><circle cx="393.07" cy="476.73" r="2.9" fill="#4285f4"/><circle cx="412.01" cy="493.34" r="2.9" fill="#4285f4"/><circle cx="430.95" cy="498.47" r="2.9" fill="#4285f4"/><circle cx="449.90" cy="504.46" r="2.9" fill="#4285f4"/><circle cx="468.84" cy="499.22" r="2.9" fill="#4285f4"/><circle cx="487.78" cy="491.35" r="2.9" fill="#4285f4"/><circle cx="506.72" cy="492.47" r="2.9" fill="#4285f4"/><circle cx="525.66" cy="496.47" r="2.9" fill="#4285f4"/><circle cx="544.61" cy="497.84" r="2.9" fill="#4285f4"/><circle cx="563.55" cy="494.34" r="2.9" fill="#4285f4"/><circle cx="582.49" cy="491.47" r="2.9" fill="#4285f4"/><circle cx="601.43" cy="491.22" r="2.9" fill="#4285f4"/><circle cx="620.37" cy="493.84" r="2.9" fill="#4285f4"/><circle cx="639.32" cy="486.22" r="2.9" fill="#4285f4"/><circle cx="658.26" cy="499.34" r="2.9" fill="#4285f4"/><circle cx="677.20" cy="463.11" r="2.9" fill="#4285f4"/>
</g>
<rect x="722.7" y="333.7" width="345" height="200" fill="#ffffff" stroke="#c4c4c4" stroke-width="1"/>
<text x="734.70" y="354.00" font-size="11.43" fill="#111111" font-weight="bold" text-anchor="start" >Monthly Product Perfomance Ratio</text>
<rect x="764" y="366.85" width="300" height="0.9" fill="#d4d4d4"/>
<rect x="764" y="383.48" width="300" height="0.8" fill="#eeeeee"/>
<rect x="762" y="383.48" width="2" height="0.8" fill="#555555"/>
<rect x="764" y="400.07" width="300" height="0.8" fill="#eeeeee"/>
<rect x="762" y="400.07" width="2" height="0.8" fill="#555555"/>
<rect x="764" y="416.60" width="300" height="0.9" fill="#d4d4d4"/>
<rect x="764" y="433.23" width="300" height="0.8" fill="#eeeeee"/>
<rect x="762" y="433.23" width="2" height="0.8" fill="#555555"/>
<rect x="764" y="449.82" width="300" height="0.8" fill="#eeeeee"/>
<rect x="762" y="449.82" width="2" height="0.8" fill="#555555"/>
<rect x="764" y="466.35" width="300" height="0.9" fill="#d4d4d4"/>
<rect x="764" y="482.98" width="300" height="0.8" fill="#eeeeee"/>
<rect x="762" y="482.98" width="2" height="0.8" fill="#555555"/>
<rect x="764" y="499.57" width="300" height="0.8" fill="#eeeeee"/>
<rect x="762" y="499.57" width="2" height="0.8" fill="#555555"/>
<rect x="764" y="516.10" width="300" height="0.9" fill="#d4d4d4"/>
<rect x="764" y="532.73" width="300" height="0.8" fill="#eeeeee"/>
<rect x="762" y="532.73" width="2" height="0.8" fill="#555555"/>
<rect x="764" y="549.32" width="300" height="0.8" fill="#eeeeee"/>
<rect x="762" y="549.32" width="2" height="0.8" fill="#555555"/>
<rect x="763.4" y="367.3" width="1" height="120" fill="#555555"/>
<text x="757.20" y="369.75" font-size="6.80" fill="#444444" font-weight="normal" text-anchor="end" >60.00%</text>
<text x="757.20" y="419.50" font-size="6.80" fill="#444444" font-weight="normal" text-anchor="end" >40.00%</text>
<text x="757.20" y="469.25" font-size="6.80" fill="#444444" font-weight="normal" text-anchor="end" >20.00%</text>
<rect x="786.30" y="465.00" width="3.0" height="15.00" fill="#ff9900"/>
<rect x="790.40" y="462.40" width="3.0" height="17.60" fill="#6aa84f"/>
<rect x="794.50" y="454.70" width="3.0" height="25.30" fill="#0000ff"/>
<rect x="798.60" y="430.90" width="3.0" height="49.10" fill="#ff0000"/>
<rect x="802.70" y="425.00" width="3.0" height="55.00" fill="#6d9eeb"/>
<rect x="806.80" y="428.00" width="3.0" height="52.00" fill="#00ffff"/>
<rect x="827.90" y="466.50" width="3.0" height="13.50" fill="#000000"/>
<rect x="832.00" y="427.50" width="3.0" height="52.50" fill="#ff9900"/>
<rect x="836.10" y="388.80" width="3.0" height="91.20" fill="#6aa84f"/>
<rect x="840.20" y="411.50" width="3.0" height="68.50" fill="#0000ff"/>
<rect x="844.30" y="410.00" width="3.0" height="70.00" fill="#ff0000"/>
<rect x="848.40" y="415.90" width="3.0" height="64.10" fill="#6d9eeb"/>
<rect x="852.50" y="432.70" width="3.0" height="47.30" fill="#00ffff"/>
<rect x="874.20" y="469.40" width="3.0" height="10.60" fill="#000000"/>
<rect x="920.20" y="474.00" width="3.0" height="6.00" fill="#000000"/>
<text x="799.40" y="422.60" font-size="6.80" fill="#e8425c" font-weight="normal" text-anchor="middle" stroke="#ffffff" stroke-width="2.0" paint-order="stroke" stroke-linejoin="round">34.58%</text>
<text x="841.50" y="403.80" font-size="6.80" fill="#1a1ae0" font-weight="bold" text-anchor="middle" stroke="#ffffff" stroke-width="2.0" paint-order="stroke" stroke-linejoin="round">42.17%</text>
<text x="795.50" y="444.40" font-size="6.80" fill="#1a1ae0" font-weight="bold" text-anchor="middle" stroke="#ffffff" stroke-width="2.0" paint-order="stroke" stroke-linejoin="round">25.69%</text>
<text x="791.70" y="453.90" font-size="6.80" fill="#57a03a" font-weight="normal" text-anchor="middle" stroke="#ffffff" stroke-width="2.0" paint-order="stroke" stroke-linejoin="round">22.05%</text>
<text x="837.30" y="380.30" font-size="6.80" fill="#57a03a" font-weight="normal" text-anchor="middle" stroke="#ffffff" stroke-width="2.0" paint-order="stroke" stroke-linejoin="round">51.54%</text>
<text x="845.30" y="401.20" font-size="6.80" fill="#e8425c" font-weight="normal" text-anchor="middle" stroke="#ffffff" stroke-width="2.0" paint-order="stroke" stroke-linejoin="round">43.28%</text>
<text x="833.20" y="473.40" font-size="6.80" fill="#000000" font-weight="bold" text-anchor="middle" stroke="#ff9900" stroke-width="1.6" paint-order="stroke">35.73%</text>
</g>
<rect x="1062.3" y="81.8" width="6.7" height="394.2" fill="#ffffff"/>
<rect x="1062.3" y="81.8" width="0.8" height="394.2" fill="#e8eaed"/>
<rect x="1063.8" y="96.8" width="4.2" height="14" rx="2.1" fill="#dadce0"/>
<path d="M1064.3,462.0 l1.4,-1.4 1.4,1.4z M1064.3,470.3 l1.4,1.4 1.4,-1.4z" fill="#80868b"/>
<rect x="1062.3" y="466" width="6.7" height="0.6" fill="#e8eaed"/>
<rect x="0" y="476" width="1069" height="7" fill="#ffffff"/>
<rect x="0" y="476" width="26" height="7" fill="#f8f9fa"/>
<rect x="25.6" y="476" width="0.9" height="7" fill="#c4c7c5"/>
<rect x="0" y="476" width="1069" height="0.6" fill="#e8eaed"/>
<rect x="0" y="482.6" width="1069" height="0.6" fill="#e8eaed"/>
<rect x="27.8" y="476.9" width="549.2" height="4.9" rx="2.45" fill="#dadce0"/>
<path d="M1049.8,478.0 l-1.4,1.4 1.4,1.4z M1057.6,478.0 l1.4,1.4 -1.4,1.4z" fill="#80868b"/>
<rect x="1045" y="476" width="0.6" height="7" fill="#e8eaed"/><rect x="1053.5" y="476" width="0.6" height="7" fill="#e8eaed"/><rect x="1062.3" y="476" width="0.6" height="7" fill="#e8eaed"/>
<path d="M32.7,494.5 h5.8 M35.6,491.6 v5.8" stroke="#444746" stroke-width="1.1"/>
<path d="M54.4,492.0 h8.2 M54.4,494.4 h8.2 M54.4,496.8 h8.2" stroke="#444746" stroke-width="1.0"/>
<rect x="72.8" y="483.4" width="69" height="19.6" fill="#e1e9f7"/>
<text x="79.80" y="497.40" font-size="8.42" fill="#0b57d0" font-weight="bold" text-anchor="start" >Dashboard</text>
<path d="M130.9,493.3 h4.2 l-2.1,2.1z" fill="#0b57d0"/>
<text x="149.40" y="497.40" font-size="8.69" fill="#3c4043" font-weight="normal" text-anchor="start" >Sacha Dashboard</text>
<path d="M225.6,493.3 h4.2 l-2.1,2.1z" fill="#2d2f31"/>
<text x="260.00" y="497.40" font-size="8.67" fill="#3c4043" font-weight="normal" text-anchor="start" >Consignement Sales</text>
<path d="M346.9,493.3 h4.2 l-2.1,2.1z" fill="#2d2f31"/>
<text x="365.80" y="497.40" font-size="8.79" fill="#3c4043" font-weight="normal" text-anchor="start" >Daily Sales Report-Aug 25</text>
<path d="M475.9,493.3 h4.2 l-2.1,2.1z" fill="#2d2f31"/>
<text x="495.30" y="497.40" font-size="8.80" fill="#3c4043" font-weight="normal" text-anchor="start" >Daily Sales Report-Sept 25</text>
<path d="M608.3,493.3 h4.2 l-2.1,2.1z" fill="#2d2f31"/>
<text x="627.30" y="497.40" font-size="8.88" fill="#3c4043" font-weight="normal" text-anchor="start" >Daily Sales Report-Okt 25</text>
<path d="M736.9,493.3 h4.2 l-2.1,2.1z" fill="#2d2f31"/>
<text x="755.60" y="497.40" font-size="8.86" fill="#3c4043" font-weight="normal" text-anchor="start" >Daily Sales Report-Nov 25</text>
<path d="M865.9,493.3 h4.2 l-2.1,2.1z" fill="#2d2f31"/>
<path d="M245,498.6 v-6.2 a4.4,4.4 0 0 1 4.4,-4.4 h2.6 a4.4,4.4 0 0 1 4.4,4.4 v1.8 a4.4,4.4 0 0 1 -4.4,4.4z" fill="#dde3ea"/>
<text x="250.70" y="495.90" font-size="6.60" fill="#444746" font-weight="normal" text-anchor="middle" >1</text>
<clipPath id="tabclip"><rect x="880" y="483" width="88.4" height="20"/></clipPath>
<text x="885.50" y="497.40" font-size="8.86" fill="#444746" font-weight="normal" text-anchor="start" clip-path="url(#tabclip)">Daily Sales Report-Dec 25</text>
<rect x="968.2" y="486.5" width="0.7" height="13" fill="#6f7276"/>
<path d="M982.6,491.2 l-2.6,2.8 2.6,2.8" fill="none" stroke="#bdc1c6" stroke-width="1.1"/>
<path d="M1002.6,491.2 l2.6,2.8 -2.6,2.8" fill="none" stroke="#444746" stroke-width="1.1"/>
<path d="M1083.8,485.2 l2.6,2.8 -2.6,2.8" fill="none" stroke="#444746" stroke-width="1.1"/>
<rect x="1079.8" y="45.0" width="10.2" height="10.4" rx="0.8" fill="#ffffff"/>
<path d="M1079.8,46.0 a1,1 0 0 1 1,-1 h8.2 a1,1 0 0 1 1,1 v1.1 h-10.2z" fill="#2a7cf0"/>
<rect x="1088.2" y="45.0" width="1.8" height="2.1" fill="#1a56c4"/>
<rect x="1079.8" y="46.8" width="1.8" height="6.9" fill="#2a7cf0"/>
<rect x="1088.2" y="47.1" width="1.8" height="6.6" fill="#f6bf26"/>
<path d="M1079.8,53.6 h8.4 v1.8 h-7.4 a1,1 0 0 1 -1,-1z" fill="#1fa84f"/>
<path d="M1088.2,53.6 h1.8 l-1.8,1.8z" fill="#e53935"/>
<text x="1084.90" y="52.20" font-size="4.20" fill="#4a86f0" font-weight="normal" text-anchor="middle" >31</text>
<rect x="1079.8" y="77.0" width="10.7" height="10.8" rx="1.2" fill="#fbbc04"/>
<circle cx="1085.1" cy="81.4" r="2.3" fill="#fff"/><rect x="1084.1" y="83.6" width="2" height="1.6" fill="#fff"/>
<path d="M1089.0,113.6 a4.1,4.1 0 1 1 -1.6,-2.6" fill="none" stroke="#1a6ce0" stroke-width="1.6"/>
<path d="M1083.0,114.4 l1.7,1.7 4.9,-5.0" fill="none" stroke="#1a6ce0" stroke-width="1.5"/>
<circle cx="1085.3" cy="144.3" r="1.9" fill="#0b57d0"/><path d="M1081.6,151.5 v-2.0 a1.6,1.6 0 0 1 1.6,-1.6 h4.2 a1.6,1.6 0 0 1 1.6,1.6 v2.0z" fill="#0b57d0"/>
<path d="M1085.6,184 c-1.3,-2.2 -3.6,-4.3 -3.6,-6.6 a3.6,3.6 0 0 1 7.2,0 c0,2.3 -2.3,4.4 -3.6,6.6z" fill="#34a853"/>
<path d="M1082,177.4 a3.6,3.6 0 0 1 3.6,-3.6 l-2.6,5.6z" fill="#ea4335"/>
<path d="M1085.6,173.8 a3.6,3.6 0 0 1 3.6,3.6 l-2.2,0.6z" fill="#4285f4"/>
<path d="M1082,177.4 l1.6,2.6 1.8,-2.2z" fill="#fbbc04"/>
<circle cx="1085.6" cy="177.4" r="1.3" fill="#fff"/>
<rect x="1079" y="204.2" width="12" height="0.7" fill="#dadce0"/>
<path d="M1081,229.6 h8 M1085,225.6 v8" stroke="#444746" stroke-width="1.1"/>
</svg></body></html>
